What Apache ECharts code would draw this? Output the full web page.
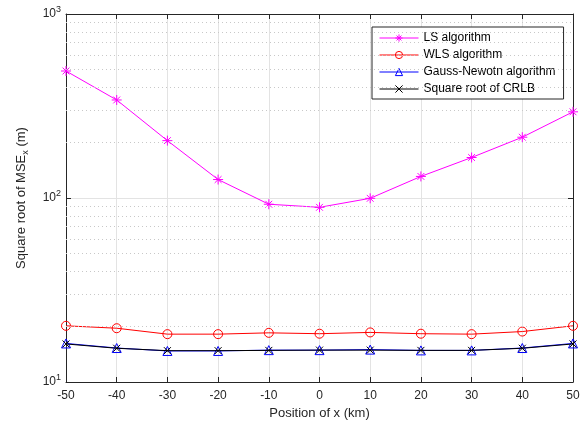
<!DOCTYPE html>
<html>
<head>
<meta charset="utf-8">
<script src="https://cdn.jsdelivr.net/npm/echarts@6/dist/echarts.min.js"></script>
<style>
  html, body { margin: 0; padding: 0; background: #fff; }
  #main { width: 583px; height: 427px; }
</style>
</head>
<body>
<div id="main"></div>
<script>
// x positions (km)
const positions = [-50, -40, -30, -20, -10, 0, 10, 20, 30, 40, 50];

// root MSE values (m)
const lsValues   = [490, 341, 205, 126, 92.5, 89, 99.6, 131, 166, 214, 294];
const wlsValues  = [20.2, 19.6, 18.2, 18.2, 18.5, 18.3, 18.6, 18.3, 18.2, 18.8, 20.2];
const gnValues   = [16.2, 15.3, 14.75, 14.75, 14.9, 14.9, 15.0, 14.85, 14.85, 15.3, 16.2];
const crlbValues = [16.1, 15.25, 14.8, 14.8, 14.85, 14.9, 14.9, 14.85, 14.85, 15.25, 16.1];

// minor grid levels of the log axis
const minorLevels = [20, 30, 40, 50, 60, 70, 80, 90, 200, 300, 400, 500, 600, 700, 800, 900];

const FONT = 'Liberation Sans';
const AXIS_COLOR = '#262626';

function pairs(vals) {
    return positions.map((x, i) => [x, vals[i]]);
}

let chart = echarts.init(document.getElementById('main'), null, {renderer: 'canvas'});

const asterisk = 'path://M5 0 L5 10 M0 5 L10 5 M1.6 1.6 L8.4 8.4 M8.4 1.6 L1.6 8.4';
const cross = 'path://M0 0 L10 10 M10 0 L0 10';

function boxAxisLine() {
    return {show: true, onZero: false, lineStyle: {color: AXIS_COLOR, width: 1}};
}

let option = {
    animation: false,
    backgroundColor: '#fff',
    textStyle: {fontFamily: FONT},
    grid: {left: 66, right: 10, top: 14, bottom: 45},
    legend: {
        orient: 'vertical',
        left: 372, top: 27,
        padding: [5, 8, 4, 7],
        itemWidth: 39, itemHeight: 9, itemGap: 5,
        backgroundColor: '#fff',
        borderColor: AXIS_COLOR, borderWidth: 1,
        lineStyle: {width: 1},
        itemStyle: {borderWidth: 1},
        textStyle: {fontFamily: FONT, fontSize: 12, color: '#000'},
        data: ['LS algorithm', 'WLS algorithm', 'Gauss-Newotn algorithm', 'Square root of CRLB']
    },
    xAxis: [{
        type: 'value', min: -50, max: 50, interval: 10,
        name: 'Position of x (km)', nameLocation: 'middle', nameGap: 25,
        nameTextStyle: {fontFamily: FONT, fontSize: 13, color: AXIS_COLOR},
        axisLine: boxAxisLine(),
        axisTick: {inside: true, length: 5, lineStyle: {color: AXIS_COLOR}},
        axisLabel: {fontFamily: FONT, fontSize: 12, color: AXIS_COLOR, margin: 8},
        splitLine: {show: true, lineStyle: {color: '#e3e3e3', width: 1}}
    }, {
        type: 'value', min: -50, max: 50, interval: 10, position: 'top',
        axisLine: boxAxisLine(),
        axisTick: {inside: true, length: 5, lineStyle: {color: AXIS_COLOR}},
        axisLabel: {show: false},
        splitLine: {show: false}
    }],
    yAxis: [{
        type: 'log', logBase: 10, min: 10, max: 1000,
        name: 'Square root of MSE{sub|x} (m)', nameLocation: 'middle', nameGap: 36, nameRotate: 90,
        nameTextStyle: {
            fontFamily: FONT, fontSize: 13, color: AXIS_COLOR,
            rich: {sub: {fontFamily: FONT, fontSize: 9, color: AXIS_COLOR, verticalAlign: 'bottom', padding: [8, 0, 0, 0]}}
        },
        axisLine: boxAxisLine(),
        axisTick: {inside: true, length: 5, lineStyle: {color: AXIS_COLOR}},
        axisLabel: {
            fontFamily: FONT, fontSize: 12, color: AXIS_COLOR, margin: 5,
            formatter: v => '10{sup|' + Math.round(Math.log10(v)) + '}',
            rich: {sup: {fontFamily: FONT, fontSize: 9, color: AXIS_COLOR, verticalAlign: 'top', padding: [0, 0, 9, 0]}}
        },
        splitLine: {show: true, lineStyle: {color: '#e3e3e3', width: 1}}
    }, {
        type: 'log', logBase: 10, min: 10, max: 1000, position: 'right',
        axisLine: boxAxisLine(),
        axisTick: {inside: true, length: 5, lineStyle: {color: AXIS_COLOR}},
        axisLabel: {show: false},
        splitLine: {show: false}
    }],
    series: [{
        name: 'LS algorithm', type: 'line',
        data: pairs(lsValues),
        symbol: asterisk, symbolSize: 10,
        lineStyle: {color: '#ff00ff', width: 1},
        itemStyle: {color: '#ff00ff', borderColor: '#ff00ff', borderWidth: 1},
        markLine: {
            silent: true, symbol: 'none', label: {show: false},
            lineStyle: {color: '#c8c8c8', type: [1, 3], width: 1},
            data: minorLevels.map(v => ({yAxis: v}))
        },
        z: 3
    }, {
        name: 'WLS algorithm', type: 'line',
        data: pairs(wlsValues),
        symbol: 'circle', symbolSize: 9,
        lineStyle: {color: '#ff0000', width: 1},
        itemStyle: {color: 'rgba(255,255,255,0)', borderColor: '#ff0000', borderWidth: 1},
        z: 4
    }, {
        name: 'Gauss-Newotn algorithm', type: 'line',
        data: pairs(gnValues),
        symbol: 'triangle', symbolSize: 9,
        lineStyle: {color: '#0000ff', width: 1},
        itemStyle: {color: 'rgba(255,255,255,0)', borderColor: '#0000ff', borderWidth: 1},
        z: 5
    }, {
        name: 'Square root of CRLB', type: 'line',
        data: pairs(crlbValues),
        symbol: cross, symbolSize: 7,
        lineStyle: {color: '#000000', width: 1},
        itemStyle: {color: '#000000', borderColor: '#000000', borderWidth: 1},
        z: 6
    }]
};

chart.setOption(option);
</script>
</body>
</html>
